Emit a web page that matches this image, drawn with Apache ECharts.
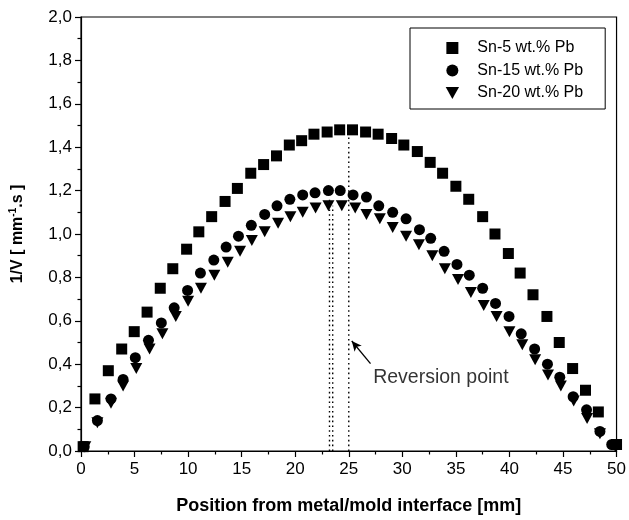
<!DOCTYPE html>
<html>
<head>
<meta charset="utf-8">
<script src="https://cdn.jsdelivr.net/npm/echarts@6/dist/echarts.min.js"></script>
<style>
html,body{margin:0;padding:0;background:#fff;}
#chart{width:629px;height:520px;}
</style>
</head>
<body>
<div id="chart"></div>
<script>
// ---- data ----
const seriesNames = ['Sn-5 wt.% Pb', 'Sn-15 wt.% Pb', 'Sn-20 wt.% Pb'];

const sqX = [0.2, 1.3, 2.55, 3.8, 4.97, 6.17, 7.4, 8.57, 9.86, 11.0, 12.2, 13.45, 14.6, 15.85, 17.05, 18.25, 19.45, 20.6, 21.75, 22.98, 24.15, 25.35, 26.57, 27.74, 29.0, 30.14, 31.4, 32.6, 33.76, 35.0, 36.2, 37.5, 38.65, 39.9, 41.0, 42.2, 43.5, 44.65, 45.9, 47.1, 48.3, 50.0];
const sqY = [0.02, 0.24, 0.37, 0.47, 0.55, 0.64, 0.75, 0.84, 0.93, 1.01, 1.08, 1.15, 1.21, 1.28, 1.32, 1.36, 1.41, 1.43, 1.46, 1.47, 1.48, 1.48, 1.47, 1.46, 1.44, 1.41, 1.38, 1.33, 1.28, 1.22, 1.16, 1.08, 1.00, 0.91, 0.82, 0.72, 0.62, 0.50, 0.38, 0.28, 0.18, 0.03];

const ciX = [0.3, 1.53, 2.8, 3.93, 5.07, 6.3, 7.5, 8.7, 9.95, 11.15, 12.4, 13.55, 14.7, 15.9, 17.15, 18.3, 19.5, 20.7, 21.85, 23.1, 24.2, 25.4, 26.65, 27.8, 29.1, 30.35, 31.6, 32.65, 33.9, 35.1, 36.25, 37.5, 38.7, 39.96, 41.1, 42.35, 43.55, 44.7, 45.95, 47.2, 48.45, 49.55];
const ciY = [0.02, 0.14, 0.24, 0.33, 0.43, 0.51, 0.59, 0.66, 0.74, 0.82, 0.88, 0.94, 0.99, 1.04, 1.09, 1.13, 1.16, 1.18, 1.19, 1.20, 1.20, 1.18, 1.17, 1.13, 1.10, 1.07, 1.02, 0.98, 0.92, 0.86, 0.81, 0.75, 0.68, 0.62, 0.54, 0.47, 0.40, 0.34, 0.25, 0.19, 0.09, 0.03];

const trX = [0.4, 1.53, 2.8, 3.93, 5.16, 6.4, 7.6, 8.85, 10.0, 11.2, 12.45, 13.7, 14.85, 15.95, 17.15, 18.4, 19.55, 20.7, 21.9, 23.1, 24.35, 25.6, 26.65, 27.9, 29.1, 30.35, 31.55, 32.8, 33.97, 35.2, 36.4, 37.6, 38.8, 40.0, 41.2, 42.4, 43.6, 44.8, 46.0, 47.25, 48.45, 49.9];
const trY = [0.02, 0.13, 0.22, 0.30, 0.38, 0.47, 0.54, 0.62, 0.69, 0.75, 0.81, 0.87, 0.92, 0.97, 1.01, 1.05, 1.08, 1.10, 1.12, 1.13, 1.13, 1.12, 1.09, 1.07, 1.03, 0.99, 0.95, 0.90, 0.84, 0.79, 0.73, 0.67, 0.62, 0.55, 0.49, 0.42, 0.35, 0.30, 0.23, 0.15, 0.08, 0.02];

// reversion point guide lines: [x, yTop]
const guideX = [23.2, 23.5, 25.0];
const guideTop = [1.17, 1.13, 1.485];

// arrow (tail -> head) and annotation
const arrowTail = [27.03, 0.403];
const arrowHead = [25.28, 0.507];
const noteText = 'Reversion point';
const notePos = [33.6, 0.336];

const xTicks = {min: 0, max: 50, interval: 5};
const yTicks = {min: 0, max: 2, interval: 0.2};

const xLabel = 'Position from metal/mold interface [mm]';

// ---- build ----
const zip = (a, b) => a.map((v, i) => [v, b[i]]);
const FONT = '"Liberation Sans", Arial, Helvetica, sans-serif';
const triPath = 'path://M0,0 L10,0 L5,9 Z';
const sqPath = 'path://M0,0 L10,0 L10,10 L0,10 Z';

const guideSeries = guideX.map((gx, i) => ({
  type: 'line',
  data: [[gx, 0], [gx, guideTop[i]]],
  showSymbol: false,
  symbol: 'none',
  silent: true,
  z: 1,
  lineStyle: {color: '#000', width: 1.4, type: [1.6, 3.2]}
}));

const chart = echarts.init(document.getElementById('chart'), null, {renderer: 'canvas'});
chart.setOption({
  animation: false,
  backgroundColor: '#fff',
  textStyle: {fontFamily: FONT, color: '#000'},
  grid: {left: 80.7, right: 6, top: 17, bottom: 63.5, show: true, borderColor: '#000', borderWidth: 1.2, backgroundColor: 'transparent'},
  legend: {
    data: seriesNames,
    orient: 'vertical',
    left: 410, top: 28,
    padding: [12, 22, 8, 35.7],
    itemWidth: 40, itemHeight: 12, itemGap: 6.5,
    symbolKeepAspect: true,
    borderColor: '#000', borderWidth: 1,
    textStyle: {fontFamily: FONT, fontSize: 16, color: '#000', lineHeight: 16},
    selectedMode: false
  },
  xAxis: {
    type: 'value',
    min: xTicks.min, max: xTicks.max, interval: xTicks.interval,
    name: xLabel, nameLocation: 'middle', nameGap: 46,
    nameTextStyle: {fontFamily: FONT, fontSize: 18, fontWeight: 'bold', color: '#000'},
    axisLine: {show: true, onZero: false, lineStyle: {color: '#000', width: 1.2}},
    axisTick: {show: true, length: 6, lineStyle: {color: '#000', width: 1.2}},
    minorTick: {show: true, splitNumber: 2, length: 3.5, lineStyle: {color: '#000', width: 1.2}},
    splitLine: {show: false},
    axisLabel: {fontFamily: FONT, fontSize: 17, color: '#000', margin: 10, showMaxLabel: true, showMinLabel: true}
  },
  yAxis: {
    type: 'value',
    min: yTicks.min, max: yTicks.max, interval: yTicks.interval,
    name: '{a|1/V [ mm}{s|-1}{a|.s ]}', nameLocation: 'middle', nameGap: 55, nameRotate: 90,
    nameTextStyle: {
      fontFamily: FONT, fontSize: 16, fontWeight: 'bold', color: '#000',
      rich: {
        a: {fontFamily: FONT, fontSize: 16, fontWeight: 'bold', color: '#000', lineHeight: 18, verticalAlign: 'bottom'},
        s: {fontFamily: FONT, fontSize: 10, fontWeight: 'bold', color: '#000', lineHeight: 18, verticalAlign: 'top', padding: [0, 0, 8, 0]}
      }
    },
    axisLine: {show: true, onZero: false, lineStyle: {color: '#000', width: 1.2}},
    axisTick: {show: true, length: 6, lineStyle: {color: '#000', width: 1.2}},
    minorTick: {show: true, splitNumber: 2, length: 3.5, lineStyle: {color: '#000', width: 1.2}},
    splitLine: {show: false},
    axisLabel: {fontFamily: FONT, fontSize: 17, color: '#000', margin: 9,
      formatter: v => v.toFixed(1).replace('.', ',')}
  },
  series: guideSeries.concat([
    {
      name: seriesNames[0], type: 'scatter', data: zip(sqX, sqY),
      symbol: sqPath, symbolSize: 11, symbolKeepAspect: true, z: 3,
      itemStyle: {color: '#000', opacity: 1}
    },
    {
      name: seriesNames[1], type: 'scatter', data: zip(ciX, ciY),
      symbol: 'circle', symbolSize: 11, z: 3,
      itemStyle: {color: '#000', opacity: 1}
    },
    {
      name: seriesNames[2], type: 'scatter', data: zip(trX, trY),
      symbol: triPath, symbolSize: [12, 11], z: 3,
      itemStyle: {color: '#000', opacity: 1}
    },
    {
      name: 'note', type: 'scatter', data: [notePos],
      symbol: 'rect', symbolSize: 1, silent: true, z: 4,
      itemStyle: {color: 'rgba(0,0,0,0)'},
      label: {show: true, position: 'inside', formatter: noteText, fontFamily: FONT, fontSize: 19.5, color: '#000'},
      markLine: {
        silent: true, animation: false,
        symbol: ['none', 'arrow'], symbolSize: [7, 10],
        label: {show: false},
        lineStyle: {color: '#000', width: 1.3, type: 'solid'},
        data: [[{coord: arrowTail}, {coord: arrowHead}]]
      }
    }
  ])
});
</script>
</body>
</html>
